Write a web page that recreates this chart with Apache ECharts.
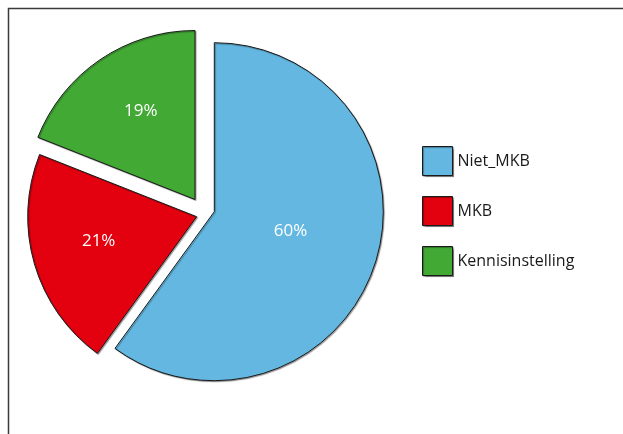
<!DOCTYPE html>
<html>
<head>
<meta charset="utf-8">
<script src="https://cdn.jsdelivr.net/npm/echarts@6/dist/echarts.min.js"></script>
<style>
html,body{margin:0;padding:0;background:#fff;}
#chart{width:623px;height:434px;}
</style>
</head>
<body>
<div id="chart"></div>
<script>
// ---- data ----
var categories = ['Niet_MKB', 'MKB', 'Kennisinstelling'];
var values = [60, 21, 19];
var colors = ['#63b7e0', '#e3000f', '#42a935'];

// per-slice drawing placement (each slice is exploded individually)
var sliceCenters = [[214.3, 211.7], [196.7, 216.7], [195, 199.5]];
var labelPads = [[0, 14, 0, 0], [0, 28, 0, 0], [0, 10, 0, 0]];
var labelFormats = ['{d}%\n', '{d}%', '{d}%\n\n'];
var R = 169;

var chart = echarts.init(document.getElementById('chart'), null, {renderer: 'canvas'});

var series = categories.map(function (cat, k) {
  return {
    type: 'pie',
    center: sliceCenters[k],
    radius: R,
    startAngle: 90,
    clockwise: true,
    avoidLabelOverlap: false,
    silent: true,
    animation: false,
    emphasis: {disabled: true},
    labelLine: {show: false},
    label: {
      show: true,
      position: 'inside',
      formatter: labelFormats[k],
      color: '#ffffff',
      fontFamily: 'Open Sans',
      fontSize: 17,
      lineHeight: 16,
      padding: labelPads[k]
    },
    data: categories.map(function (n, i) {
      var vis = (i === k);
      return {
        name: n,
        value: values[i],
        itemStyle: vis ? {
          color: colors[i],
          borderColor: '#1a1a1a',
          borderWidth: 1,
          shadowColor: 'rgba(0,0,0,0.35)',
          shadowOffsetX: 1,
          shadowOffsetY: 1,
          shadowBlur: 1
        } : {color: 'rgba(0,0,0,0)', borderWidth: 0},
        label: {show: vis}
      };
    })
  };
});

chart.setOption({
  backgroundColor: '#ffffff',
  animation: false,
  graphic: [{
    type: 'rect',
    shape: {x: 8.5, y: 8.5, width: 2000, height: 2000},
    style: {fill: 'none', stroke: '#3a3a3a', lineWidth: 1.5},
    silent: true,
    z: 0
  }],
  legend: {
    orient: 'vertical',
    left: 422,
    top: 146,
    padding: 0,
    itemWidth: 30,
    itemHeight: 29,
    itemGap: 20,
    icon: 'rect',
    selectedMode: false,
    textStyle: {fontFamily: 'Open Sans', fontSize: 16, color: '#1a1a1a'},
    data: categories.map(function (n, i) {
      return {
        name: n,
        itemStyle: {
          color: colors[i],
          borderColor: '#1a1a1a',
          borderWidth: 1,
          shadowColor: 'rgba(0,0,0,0.35)',
          shadowOffsetX: 1,
          shadowOffsetY: 1,
          shadowBlur: 1
        }
      };
    })
  },
  series: series
});
</script>
</body>
</html>
